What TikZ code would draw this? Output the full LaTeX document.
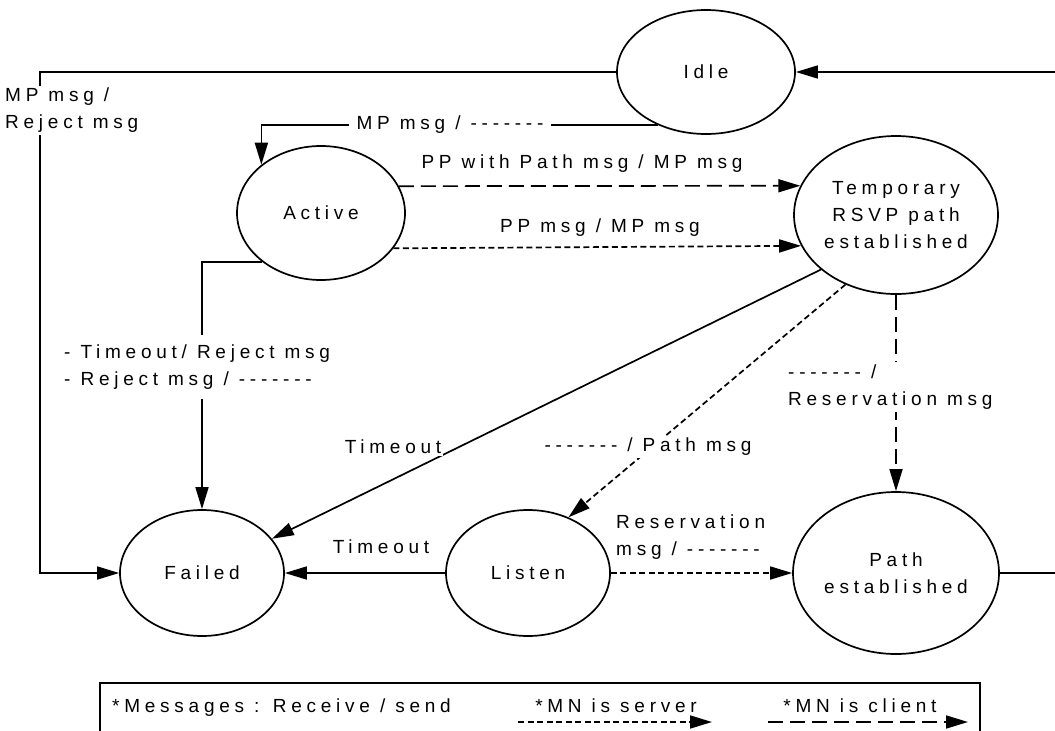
\documentclass[tikz,border=0pt]{standalone}
\usepackage{fontspec}
\setmainfont{Liberation Sans}[LetterSpace=25,Ligatures=TeXOff]
\usetikzlibrary{arrows.meta,shapes.geometric}

\begin{document}
\begin{tikzpicture}[x=1pt,y=-1pt,
  every node/.style={font=\fontsize{19}{27}\selectfont, inner sep=2pt},
  state/.style={draw, ellipse, line width=1.7pt, inner sep=0pt, align=center},
  conn/.style={line width=1.7pt, -{Triangle[length=22pt,width=13pt]}},
  client/.style={conn, dash pattern=on 15pt off 7pt},
  server/.style={conn, dash pattern=on 6pt off 3.5pt},
  cover/.style={fill=white, align=left}]

\useasboundingbox (0,0) rectangle (1055,731);

% states
\node[state, minimum width=178pt, minimum height=124pt] (idle)   at (706,72)  {Idle};
\node[state, minimum width=168pt, minimum height=134pt] (active) at (321,213) {Active};
\node[state, minimum width=204pt, minimum height=158pt] (temp)   at (896,215) {Temporary\\RSVP path\\established};
\node[state, minimum width=164pt, minimum height=126pt] (failed) at (202,573) {Failed};
\node[state, minimum width=164pt, minimum height=126pt] (listen) at (528,573) {Listen};
\node[state, minimum width=206pt, minimum height=162pt] (path)   at (896,573) {Path\\established};

\coordinate (leftrail)  at (40,0);
\coordinate (rightrail) at (1062,0);

% Idle -> Failed along the left edge
\draw[conn] (idle.west) -- (idle.west -| leftrail) |- (failed.west);
\node[cover, anchor=north west, inner xsep=3pt] (lblreject) at (2,86) {MP msg /\\Reject msg};

% Path established -> Idle along the right edge
\draw[conn] (path.east) -- (path.east -| rightrail) |- (idle.east);

% Idle -> Active
\draw[conn] (idle.228.9) -| (active.141.1);
\node[fill=white, inner xsep=8pt] (lblmp) at (450,125) {MP msg / -------};

% Active -> Temporary path
\draw[client] (active.19.35) -- (temp.163);
\node (lblppwith) at (582,164) {PP with Path msg / MP msg};
\draw[server] (active.334.8) -- (temp.198.9);
\node (lblpp) at (600,228) {PP msg / MP msg};

% Active -> Failed
\draw[conn] (active.220.5) -| (failed.north);
\node[cover, anchor=west, inner ysep=10pt] (lbltimeout1) at (62,367)
  {- Timeout/ Reject msg\\- Reject msg / -------};

% Temporary path -> Failed
\draw[conn] (temp.216.6) -- (failed);
\node[fill=white] (lbltimeout2) at (393,447) {Timeout};

% Temporary path -> Listen
\draw[server] (temp.234.2) -- (listen.54.5);
\node[fill=white] (lblpathmsg) at (648,447) {------- / Path msg};

% Temporary path -> Path established
\draw[client] (temp.south) -- (path.north);
\node[cover, anchor=west, inner ysep=3pt] (lblresv) at (786,387) {------- /\\Reservation msg};

% Listen -> Failed
\draw[conn] (listen.west) -- (failed.east);
\node (lbltimeout3) at (381,547) {Timeout};

% Listen -> Path established
\draw[server] (listen.east) -- (path.west);
\node[align=left, anchor=south west] (lblresv2) at (614,562) {Reservation\\msg / -------};

% legend
\draw[line width=1.7pt] (100,745) |- (980,683) -- (980,745);
\node[anchor=west] (legtext) at (110,708) {*Messages : Receive / send};
\node (legserver) at (616,706) {*MN is server};
\coordinate (srvA) at (518,722);
\coordinate (srvB) at (712,722);
\draw[server] (srvA) -- (srvB);
\node (legclient) at (860,706) {*MN is client};
\coordinate (cliA) at (768,722);
\coordinate (cliB) at (968,722);
\draw[client] (cliA) -- (cliB);
\end{tikzpicture}
\end{document}
